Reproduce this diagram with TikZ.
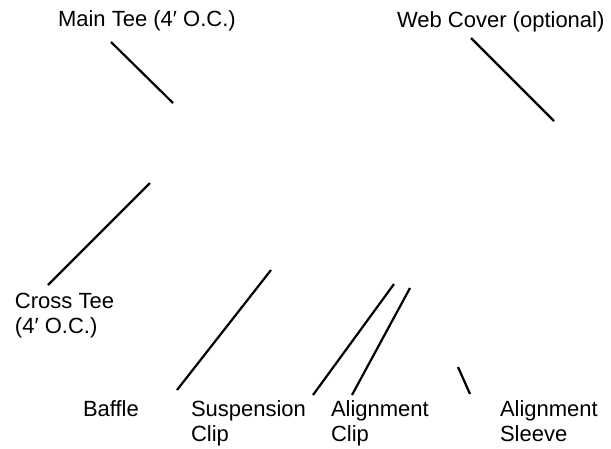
\documentclass[tikz,border=0pt]{standalone}
\usepackage{fontspec}
\setmainfont{Liberation Sans}
\begin{document}
\begin{tikzpicture}[x=1pt,y=-1pt,
  lbl/.style={inner sep=0pt,outer sep=0pt,anchor=base west,align=left,
    font=\fontsize{22}{25}\selectfont},
  leader/.style={line width=2.2pt,black}]
\useasboundingbox (0,0) rectangle (611,448);
% labels (anchor = baseline of the last line)
\node[lbl] (main) at (58,26) {Main Tee (4′ O.C.)};
\node[lbl] (web) at (397,27) {Web Cover (optional)};
\node[lbl] (cross) at (15,333) {Cross Tee\\(4′ O.C.)};
\node[lbl] (baffle) at (83,416) {Baffle};
\node[lbl] (susp) at (191,441) {Suspension\\Clip};
\node[lbl] (aclip) at (331,441) {Alignment\\Clip};
\node[lbl] (sleeve) at (500,441) {Alignment\\Sleeve};
% leader ends
\coordinate (m1) at (111,42);  \coordinate (m2) at (173,103);
\coordinate (w1) at (471,38);  \coordinate (w2) at (554,121);
\coordinate (c1) at (48,285);  \coordinate (c2) at (150,183);
\coordinate (b1) at (177,390); \coordinate (b2) at (271,270);
\coordinate (s1) at (313,395); \coordinate (s2) at (394,284);
\coordinate (a1) at (352,395); \coordinate (a2) at (410,288);
\coordinate (l1) at (470,394); \coordinate (l2) at (458,367);
% leaders
\draw[leader] (m1) -- (m2);
\draw[leader] (w1) -- (w2);
\draw[leader] (c1) -- (c2);
\draw[leader] (b1) -- (b2);
\draw[leader] (s1) -- (s2);
\draw[leader] (a1) -- (a2);
\draw[leader] (l1) -- (l2);
\end{tikzpicture}
\end{document}
